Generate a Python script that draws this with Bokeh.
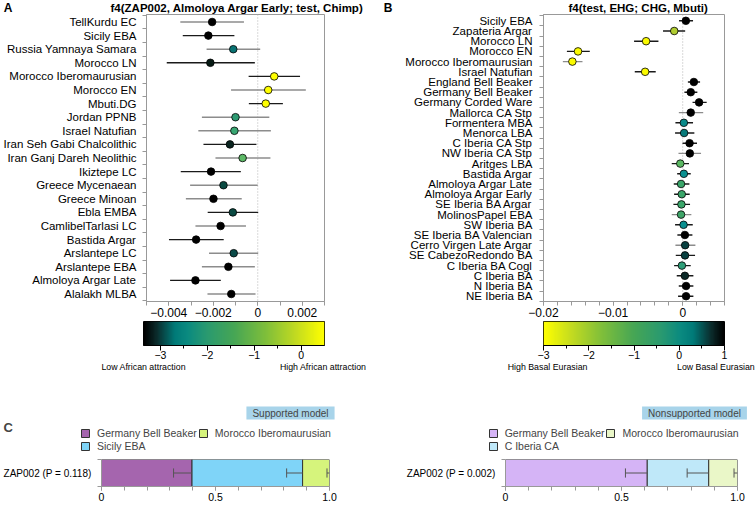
import numpy as np
from bokeh.plotting import figure
from bokeh.layouts import column, row
from bokeh.models import (Range1d, FixedTicker, Span, Label, LinearAxis,
                          LinearColorMapper, Legend, LegendItem, ColumnDataSource)
from bokeh.embed import file_html
from bokeh.resources import INLINE

FONT = "Liberation Sans"
GRAY = "#999999"
BK = "#1a1a1a"   # dark error bar
GR = "#8c8c8c"   # grey error bar

# ---------------- Panel A ----------------
a_title = "f4(ZAP002, Almoloya Argar Early; test, Chimp)"
a_pops = ["TellKurdu EC", "Sicily EBA", "Russia Yamnaya Samara", "Morocco LN",
          "Morocco Iberomaurusian", "Morocco EN", "Mbuti.DG", "Jordan PPNB",
          "Israel Natufian", "Iran Seh Gabi Chalcolithic", "Iran Ganj Dareh Neolithic",
          "Ikiztepe LC", "Greece Mycenaean", "Greece Minoan", "Ebla EMBA",
          "CamlibelTarlasi LC", "Bastida Argar", "Arslantepe LC", "Arslantepe EBA",
          "Almoloya Argar Late", "Alalakh MLBA"]
a_f4 = [-0.00205, -0.00222, -0.00110, -0.00213, 0.00074, 0.00047, 0.00036, -0.00100,
        -0.00105, -0.00125, -0.00068, -0.00210, -0.00154, -0.00199, -0.00112,
        -0.00167, -0.00277, -0.00108, -0.00132, -0.00280, -0.00119]
a_lo = [-0.00348, -0.00337, -0.00230, -0.00409, -0.00041, -0.00120, -0.00040, -0.00251,
        -0.00267, -0.00244, -0.00190, -0.00346, -0.00304, -0.00323, -0.00225,
        -0.00280, -0.00399, -0.00219, -0.00251, -0.00394, -0.00226]
a_hi = [-0.00062, -0.00105, 0.00011, -0.00013, 0.00190, 0.00216, 0.00113, 0.00052,
        0.00059, -0.00006, 0.00057, -0.00076, 0.00000, -0.00072, 0.00002,
        -0.00053, -0.00153, 0.00002, -0.00013, -0.00166, -0.00010]
a_dot = ["#000000", "#000000", "#087272", "#061a14", "#ffff00", "#ffff00", "#ffff00",
         "#2e9a72", "#38a672", "#0a2420", "#5cb866", "#000000", "#0a4a42", "#000000",
         "#0a4a42", "#000000", "#000000", "#0a4a48", "#000000", "#000000", "#000000"]
a_bar = [GR, BK, GR, BK, BK, GR, BK, GR, GR, BK, GR, BK, GR, GR, BK, GR, BK, GR, GR, BK, GR]
a_xticks = [-0.004, -0.002, 0, 0.002]
a_cb_range = (-3.36, 0.5)
a_cb_ticks = [-3, -2, -1, 0]
a_cb_minor = [-2.5, -1.5, -0.5]
a_cb_texts = ["Low African attraction", "High African attraction"]

# ---------------- Panel B ----------------
b_title = "f4(test, EHG; CHG, Mbuti)"
b_pops = ["Sicily EBA", "Zapateria Argar", "Morocco LN", "Morocco EN",
          "Morocco Iberomaurusian", "Israel Natufian", "England Bell Beaker",
          "Germany Bell Beaker", "Germany Corded Ware", "Mallorca CA Stp",
          "Formentera MBA", "Menorca LBA", "C Iberia CA Stp", "NW Iberia CA Stp",
          "Aritges LBA", "Bastida Argar", "Almoloya Argar Late", "Almoloya Argar Early",
          "SE Iberia BA Argar", "MolinosPapel EBA", "SW Iberia BA", "SE Iberia BA Valencian",
          "Cerro Virgen Late Argar", "SE CabezoRedondo BA", "C Iberia BA Cogl",
          "C Iberia BA", "N Iberia BA", "NE Iberia BA"]
b_f4 = [0.00045, -0.00122, -0.00526, -0.01504, -0.01585, -0.00540, 0.00160, 0.00115,
        0.00235, 0.00115, 0.00016, 0.00020, 0.00098, 0.00102, -0.00035, 0.00016,
        -0.00024, -0.00014, -0.00019, -0.00024, 0.00012, 0.00031, 0.00035, 0.00033,
        -0.00012, 0.00031, 0.00048, 0.00048]
b_lo = [-0.00053, -0.00283, -0.00699, -0.01664, -0.01722, -0.00689, 0.00074, 0.00024,
        0.00141, -0.00056, -0.00105, -0.00110, -0.00003, -0.00061, -0.00158, -0.00080,
        -0.00129, -0.00124, -0.00134, -0.00158, -0.00110, -0.00077, -0.00105, -0.00100,
        -0.00124, -0.00086, -0.00057, -0.00067]
b_hi = [0.00148, 0.00035, -0.00349, -0.01335, -0.01440, -0.00388, 0.00249, 0.00210,
        0.00344, 0.00294, 0.00148, 0.00167, 0.00205, 0.00263, 0.00090, 0.00115,
        0.00096, 0.00100, 0.00105, 0.00124, 0.00144, 0.00139, 0.00182, 0.00177,
        0.00115, 0.00153, 0.00153, 0.00153]
b_dot = ["#000000", "#b0cc30", "#fafa00", "#fafa00", "#fafa00", "#fafa00", "#000000",
         "#000000", "#000000", "#000000", "#0a8a8a", "#077a7a", "#000000", "#000000",
         "#5ab862", "#0a9090", "#3aa66a", "#3aa66a", "#3aa66a", "#3ea468", "#0a9090",
         "#000000", "#073f3f", "#073f3f", "#2e9e78", "#0a2826", "#000000", "#000000"]
b_bar = [BK, BK, BK, BK, GR, BK, BK, BK, BK, GR, BK, BK, BK, GR, BK, BK, BK, BK, BK,
         GR, BK, BK, GR, BK, BK, BK, BK, BK]
b_xticks = [-0.02, -0.01, 0]
b_cb_range = (-3, 1)
b_cb_ticks = [-3, -2, -1, 0, 1]
b_cb_minor = [-2.5, -1.5, -0.5, 0.5]
b_cb_texts = ["High Basal Eurasian", "Low Basal Eurasian"]

# ---------------- Panel C ----------------
c1_model = "Supported model"
c1_label = "ZAP002 (P = 0.118)"
c1_sources = ["Germany Bell Beaker", "Sicily EBA", "Morocco Iberomaurusian"]
c1_props = [0.397, 0.485, 0.118]
c1_err = [0.081, 0.070, 0.011]
c1_colors = ["#a565ae", "#7fd4f8", "#d6f47c"]

c2_model = "Nonsupported model"
c2_label = "ZAP002 (P = 0.002)"
c2_sources = ["Germany Bell Beaker", "C Iberia CA", "Morocco Iberomaurusian"]
c2_props = [0.611, 0.265, 0.124]
c2_err = [0.094, 0.093, 0.015]
c2_colors = ["#d5b4f6", "#bfe8f9", "#eaf7c8"]


def make_palette(stops, n=256):
    pos = np.array([s[0] for s in stops])
    rgb = np.array([[int(c[k:k + 2], 16) for k in (1, 3, 5)] for _, c in stops], dtype=float)
    out = []
    for t in np.linspace(0, 1, n):
        r, g, b = (np.interp(t, pos, rgb[:, j]) for j in range(3))
        out.append("#%02x%02x%02x" % (int(round(r)), int(round(g)), int(round(b))))
    return out


STOPS = [(0.0, "#000000"), (0.07, "#0b2b2b"), (0.17, "#007a78"), (0.24, "#0a8a80"),
         (0.35, "#2a9a70"), (0.5, "#46a655"), (0.68, "#80bf3a"), (0.85, "#c4dc20"),
         (1.0, "#ffff00")]
PAL = make_palette(STOPS)


def fig(**kw):
    p = figure(output_backend="svg", toolbar_location=None, title=None, **kw)
    try:
        p.frame_align = False
    except Exception:
        pass
    p.grid.visible = False
    return p


def fmt_minus(v, nd):
    if v == 0:
        return "0"
    s = ("{:.%df}" % nd).format(abs(v))
    return ("\u2212" + s) if v < 0 else s


def style_axis(ax, size, line=GRAY):
    ax.major_label_text_font = FONT
    ax.major_label_text_font_size = size
    ax.major_label_text_color = "black"
    ax.axis_line_color = line
    ax.major_tick_line_color = line
    ax.minor_tick_line_color = line
    ax.major_tick_in = 0
    ax.minor_tick_in = 0


def bare_axis(ax, label, size, standoff):
    ax.ticker = FixedTicker(ticks=[0.5])
    ax.major_label_overrides = {0.5: label}
    ax.major_label_text_font = FONT
    ax.major_label_text_font_size = size
    ax.major_label_text_font_style = "bold"
    ax.major_label_text_color = "black"
    ax.axis_line_color = None
    ax.major_tick_line_color = None
    ax.minor_tick_line_color = None
    ax.major_label_standoff = standoff


def title_strip(left_px, width, letter, letter_right, title, title_left):
    """Panel letter and title set as the labels of two bare axes of a thin strip."""
    p = fig(width=width, height=14, x_range=Range1d(0, 1), y_range=Range1d(0, 1),
            x_axis_location=None,
            min_border_left=int(round(letter_right + 1 - left_px)),
            min_border_right=int(round(left_px + width - title_left)),
            min_border_top=0, min_border_bottom=0)
    p.outline_line_color = None
    bare_axis(p.yaxis[0], letter, "12px", 1)
    ra = LinearAxis()
    bare_axis(ra, title, "11.5px", 0)
    p.add_layout(ra, "right")
    return p


def header(left_px, width, top_px, height):
    """Blank strip whose ranges are page pixels, used for texts outside the plot frames."""
    p = fig(width=width, height=height, x_range=Range1d(left_px, left_px + width),
            y_range=Range1d(top_px + height, top_px),
            x_axis_location=None, y_axis_location=None,
            min_border_left=0, min_border_right=0, min_border_top=0, min_border_bottom=0)
    p.outline_line_color = None
    return p


def text(p, x, y, s, size, style="normal", align="left", baseline="alphabetic", **kw):
    p.add_layout(Label(x=x, y=y, text=s, text_align=align, text_baseline=baseline,
                       text_font=FONT, text_font_size=size, text_font_style=style, **kw))


def forest(width, bl, br, xr, row0, step, names, est, lo, hi, dots, bars,
           xt, xminor, nd, ysize, ystand):
    H, BB = 307, 20
    top_px, bot_px = 14, 14 + H - BB
    n = len(names)
    p = fig(width=width, height=H, x_range=Range1d(*xr),
            y_range=Range1d((bot_px - row0) / step, (top_px - row0) / step),
            min_border_left=bl, min_border_right=br, min_border_top=0, min_border_bottom=BB)
    p.outline_line_color = GRAY

    p.add_layout(Span(location=0, dimension="height", line_color="#b3b3b3",
                      line_dash="1 2", line_width=1, level="underlay"))
    src = ColumnDataSource(dict(y=list(range(n)), est=est, lo=lo, hi=hi, dot=dots, bar=bars))
    p.segment(x0="lo", x1="hi", y0="y", y1="y", line_color="bar", line_width=1.4, source=src)
    p.scatter(x="est", y="y", size=7.6, fill_color="dot", line_color="black",
              line_width=0.8, source=src)

    ya = p.yaxis[0]
    ya.ticker = FixedTicker(ticks=list(range(n)), minor_ticks=[i - 0.5 for i in range(n + 1)])
    ya.major_label_overrides = {i: s for i, s in enumerate(names)}
    style_axis(ya, ysize)
    ya.major_tick_out = 0
    ya.minor_tick_out = 4
    ya.major_label_standoff = ystand

    xa = p.xaxis[0]
    xa.ticker = FixedTicker(ticks=xt, minor_ticks=xminor)
    xa.major_label_overrides = {t: fmt_minus(t, nd) for t in xt}
    style_axis(xa, "12px")
    xa.major_tick_out = 4
    xa.minor_tick_out = 4
    xa.major_label_standoff = 2
    return p


def colorbar(width, bl, br, rng, palette, ticks, minor, end_vals, end_texts):
    H = 64
    lo, hi = rng
    p = fig(width=width, height=H, x_range=Range1d(lo, hi), y_range=Range1d(0, 1),
            y_axis_location=None, min_border_left=bl, min_border_right=br,
            min_border_top=0, min_border_bottom=H - 24)
    p.outline_line_color = "black"
    mapper = LinearColorMapper(palette=palette, low=lo, high=hi)
    p.image(image=[np.linspace(lo, hi, 400).reshape(1, -1)], x=lo, y=0, dw=hi - lo, dh=1,
            color_mapper=mapper)
    xa = p.xaxis[0]
    xa.ticker = FixedTicker(ticks=ticks, minor_ticks=minor)
    xa.major_label_overrides = {t: fmt_minus(t, 0) for t in ticks}
    style_axis(xa, "10.5px", line="black")
    xa.major_tick_out = 5
    xa.minor_tick_out = 3
    xa.major_label_standoff = 0
    ea = LinearAxis(ticker=FixedTicker(ticks=end_vals),
                    major_label_overrides=dict(zip(end_vals, end_texts)),
                    axis_line_color=None, major_tick_line_color=None,
                    minor_tick_line_color=None, major_label_standoff=-6,
                    major_label_text_font=FONT, major_label_text_font_size="8.8px",
                    major_label_text_color="black")
    p.add_layout(ea, "below")
    return p


def admix(width, bl, br, label, props, errs, colors):
    H, BB = 48, 21
    p = fig(width=width, height=H, x_range=Range1d(0, 1), y_range=Range1d(0, 1),
            min_border_left=bl, min_border_right=br, min_border_top=0, min_border_bottom=BB)
    p.outline_line_color = None
    rights = np.cumsum(props)
    lefts = rights - np.array(props)
    for l, r, c in zip(lefts, rights, colors):
        p.hbar(y=0.5, left=l, right=r, height=1, fill_color=c, line_color="#333333",
               line_width=1)
    ex0 = rights - np.array(errs)
    k = len(props)
    p.segment(x0=ex0, x1=rights, y0=[0.5] * k, y1=[0.5] * k, line_color="#555555", line_width=1)
    p.segment(x0=ex0, x1=ex0, y0=[0.33] * k, y1=[0.67] * k, line_color="#555555", line_width=1)

    ya = p.yaxis[0]
    ya.ticker = FixedTicker(ticks=[0.5], minor_ticks=[0, 1])
    ya.major_label_overrides = {0.5: label}
    style_axis(ya, "10px")
    ya.major_tick_out = 0
    ya.minor_tick_out = 4
    ya.major_label_standoff = 6

    xa = p.xaxis[0]
    xa.ticker = FixedTicker(ticks=[0, 0.5, 1], minor_ticks=[i / 10 for i in range(11)])
    xa.major_label_overrides = {0: "0", 0.5: "0.5", 1: "1.0"}
    style_axis(xa, "10.5px")
    xa.major_tick_out = 4
    xa.minor_tick_out = 4
    xa.major_label_standoff = 2
    return p


def admix_header(left_px, width, sources, props, colors, model, model_cx, leg_x, letter=None):
    top, H = 385, 74
    h = header(left_px, width, top, H)
    rights = np.cumsum(props)
    lefts = rights - np.array(props)
    items = []
    for s, l, r, c in zip(sources, lefts, rights, colors):
        g = h.hbar(y=0.5, left=l, right=r, height=1, fill_color=c, line_color="#333333",
                   line_width=1, visible=False)
        items.append(LegendItem(label=s, renderers=[g]))
    leg = Legend(items=items, location=(leg_x - left_px, top + H - 451.7), ncols=2,
                 orientation="vertical", padding=0, margin=0, border_line_color=None,
                 background_fill_alpha=0, glyph_width=10, glyph_height=10,
                 label_standoff=7, spacing=1, label_height=10, click_policy="none",
                 label_text_font=FONT, label_text_font_size="10.5px")
    h.add_layout(leg)
    text(h, model_cx, 412.5, model, "10px", align="center", baseline="middle",
         background_fill_color="#a8d4ea", padding=dict(left=6, right=6, top=1, bottom=1))
    if letter:
        text(h, 3, 427, letter, "13px", style="bold")
    return h


hA = title_strip(0, 380, "A", 12.5, a_title, 104.5)
hB = title_strip(380, 376, "B", 397, b_title, 562)

pA = forest(380, 143, 56, (-0.005, 0.003), 21.5, 13.6, a_pops, a_f4, a_lo, a_hi,
            a_dot, a_bar, a_xticks, [round(-0.005 + 0.001 * i, 4) for i in range(9)], 3,
            "11.5px", 6)
pB = forest(376, 163, 32, (-0.02, 0.006), 20.3, 10.2, b_pops, b_f4, b_lo, b_hi,
            b_dot, b_bar, b_xticks, [round(-0.02 + 0.002 * i, 4) for i in range(14)], 2,
            "11.5px", 7)
cA = colorbar(380, 143, 56, a_cb_range, PAL, a_cb_ticks, a_cb_minor, [-3.355, 0.472],
              a_cb_texts)
cB = colorbar(376, 163, 32, b_cb_range, PAL[::-1], b_cb_ticks, b_cb_minor, [-2.91, 0.81],
              b_cb_texts)

hC1 = admix_header(0, 380, c1_sources, c1_props, c1_colors, c1_model, 290, 80, letter="C")
hC2 = admix_header(380, 376, c2_sources, c2_props, c2_colors, c2_model, 694, 487.7)
pC1 = admix(380, 97, 51, c1_label, c1_props, c1_err, c1_colors)
pC2 = admix(376, 125, 19, c2_label, c2_props, c2_err, c2_colors)

layout = column(row(column(hA, pA, cA), column(hB, pB, cB)),
                row(column(hC1, pC1), column(hC2, pC2)))
open("out.html", "w").write(file_html(layout, INLINE))
